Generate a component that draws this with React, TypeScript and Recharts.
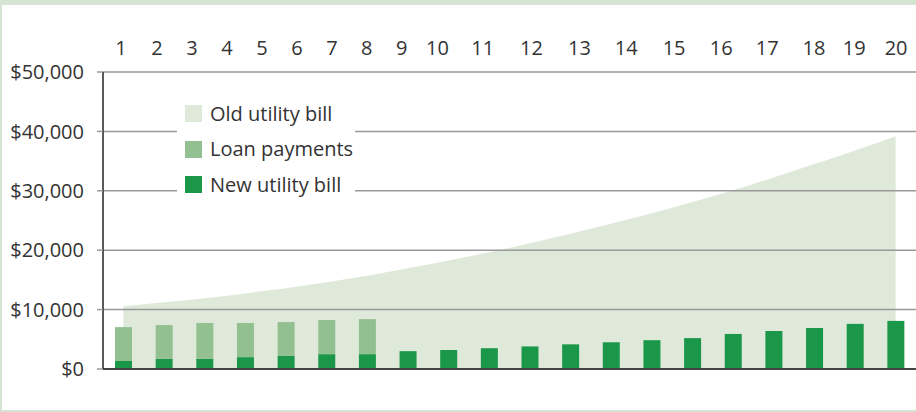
import React from 'react';
import {
  ComposedChart,
  Area,
  Bar,
  XAxis,
  YAxis,
  ReferenceLine,
  Legend,
} from 'recharts';

// years along the bottom
const years = [1, 2, 3, 4, 5, 6, 7, 8, 9, 10, 11, 12, 13, 14, 15, 16, 17, 18, 19, 20];

// old utility bill, growing every year ($)
const oldBill = [
  10560, 11230, 11930, 12730, 13600, 14600, 15700, 16950, 18250, 19650,
  21150, 22750, 24450, 26200, 28100, 30100, 32250, 34500, 36800, 39200,
];

// new (reduced) utility bill ($)
const newBill = [
  1350, 1700, 1700, 2000, 2200, 2500, 2500, 3000, 3200, 3500,
  3800, 4150, 4500, 4850, 5200, 5900, 6400, 6900, 7600, 8100,
];

// loan payments, only for the first seven years ($)
const loan = [5700, 5700, 6050, 5750, 5700, 5750, 5900];

const yTicks = [0, 10000, 20000, 30000, 40000, 50000];

// the year labels on top sit where the original placed them (in year units)
const topLabelAt = [
  0.94, 1.83, 2.69, 3.55, 4.41, 5.27, 6.13, 6.99, 7.85, 8.73,
  9.84, 11.04, 12.22, 13.37, 14.55, 15.71, 16.84, 17.99, 18.98, 20.01,
];

const legendItems = [
  { label: 'Old utility bill', color: '#dfe9da' },
  { label: 'Loan payments', color: '#93c090' },
  { label: 'New utility bill', color: '#1a9748' },
];

const FONT = '"Open Sans", "Noto Sans", sans-serif';
const TEXT = '#333';
const FRAME = '#d6e5d3';

const rows = years.map((year, i) => ({
  year,
  old: oldBill[i],
  newBill: newBill[i],
  loan: i < loan.length ? loan[i] : null,
}));

const yearEdges = years.map((y) => y - 0.5);

const money = (v: number) => `$${v.toLocaleString('en-US')}`;

const LegendBox = () => (
  <div style={{ background: '#fff', paddingLeft: 8, fontFamily: FONT }}>
    {legendItems.map((item) => (
      <div
        key={item.label}
        style={{ display: 'flex', alignItems: 'center', height: 35.5 }}
      >
        <div style={{ width: 17, height: 17, background: item.color, marginRight: 8 }} />
        <span style={{ fontSize: 20, color: TEXT, lineHeight: 1 }}>{item.label}</span>
      </div>
    ))}
  </div>
);

export default function App() {
  return (
    <div
      style={{
        position: 'absolute',
        left: 0,
        top: 0,
        width: 916,
        height: 412,
        background: '#fff',
        fontFamily: FONT,
        overflow: 'hidden',
      }}
    >
      <ComposedChart
        width={916}
        height={412}
        data={rows}
        margin={{ top: 0, right: 0, bottom: 0, left: 0 }}
      >
        <XAxis xAxisId="cat" dataKey="year" type="category" hide />
        <XAxis
          xAxisId="top"
          dataKey="year"
          orientation="top"
          type="number"
          domain={[0.5, 20.5]}
          allowDataOverflow
          ticks={topLabelAt}
          interval={0}
          height={72}
          axisLine={false}
          tickLine={false}
          tickSize={0}
          tickMargin={17}
          tickFormatter={(_v: number, i: number) => String(years[i])}
          tick={{ fill: TEXT, fontSize: 20 }}
        />
        <XAxis
          xAxisId="base"
          dataKey="year"
          type="number"
          domain={[0.5, 20.5]}
          allowDataOverflow
          ticks={yearEdges}
          interval={0}
          height={43}
          tick={false}
          tickSize={6}
          axisLine={{ stroke: '#444', strokeWidth: 2 }}
          tickLine={{ stroke: '#444', strokeWidth: 1.5 }}
        />
        <YAxis
          domain={[0, 50000]}
          ticks={yTicks}
          interval={0}
          width={103}
          tickSize={6}
          tickMargin={13}
          tickFormatter={money}
          axisLine={{ stroke: '#222', strokeWidth: 1.5 }}
          tickLine={{ stroke: '#999', strokeWidth: 1.5 }}
          tick={{ fill: TEXT, fontSize: 20 }}
        />
        <Area
          xAxisId="cat"
          dataKey="old"
          type="monotone"
          fill="#dfe9da"
          fillOpacity={1}
          stroke="none"
          isAnimationActive={false}
        />
        {yTicks.slice(1).map((t) => (
          <ReferenceLine
            key={t}
            xAxisId="cat"
            y={t}
            stroke="#999"
            strokeWidth={1.5}
          />
        ))}
        <Bar
          xAxisId="cat"
          dataKey="newBill"
          stackId="a"
          fill="#1a9748"
          barSize={17}
          isAnimationActive={false}
        />
        <Bar
          xAxisId="cat"
          dataKey="loan"
          stackId="a"
          fill="#93c090"
          barSize={17}
          isAnimationActive={false}
        />
        <Legend
          layout="horizontal"
          verticalAlign="middle"
          align="center"
          wrapperStyle={{ position: 'absolute', left: 177, top: 96, width: 178 }}
          content={() => <LegendBox />}
        />
      </ComposedChart>
      <div style={{ position: 'absolute', left: 0, top: 0, width: 916, height: 5, background: FRAME }} />
      <div style={{ position: 'absolute', left: 0, top: 0, width: 2, height: 412, background: FRAME }} />
      <div style={{ position: 'absolute', left: 0, top: 410, width: 916, height: 2, background: FRAME }} />
    </div>
  );
}
